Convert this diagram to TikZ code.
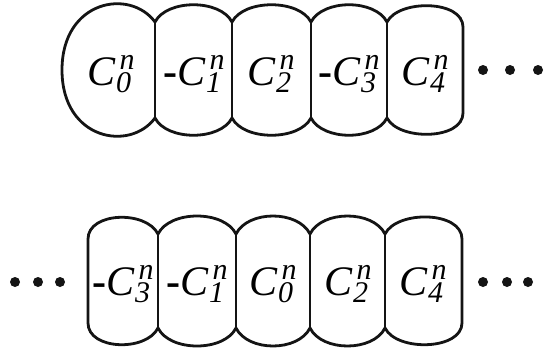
\documentclass[tikz,border=0pt]{standalone}
\usepackage{fontspec}
\setmainfont{Liberation Serif}
\usepackage{tikz}
\definecolor{cellLine}{RGB}{20,20,20}
\newcommand{\subFont}{\fontsize{30}{21}\selectfont}
% coefficient C_k^n with optional sign in front
\newcommand{\coefC}[2]{#1\textit{C}\kern0.5pt\raisebox{-7.5pt}{\subFont\shortstack[l]{\kern3.5pt\textit{n}\\\textit{#2}}}}
\newcommand{\negSign}{{\bfseries -}}

\begin{document}
\begin{tikzpicture}[x=1pt,y=-1pt,
    cell/.style={cellLine, line width=2.8pt, line join=round},
    lbl/.style={anchor=base, inner sep=0pt, font=\fontsize{42}{42}\selectfont},
    dot/.style={circle, fill=cellLine, inner sep=0pt, minimum size=10pt}]
    \useasboundingbox (0,0) rectangle (548,356);

    % top row: outline
    \draw[cell] (155,22) .. controls (130,-12) and (62,0) .. (62,70)
        .. controls (62,140) and (130,152) .. (155,118);
    \draw[cell] (155,22) .. controls (167,-1) and (220,-1) .. (232,22)
        .. controls (244,-1) and (299,-1) .. (311,22)
        .. controls (323,-1) and (375,-1) .. (387,22)
        .. controls (399,-1) and (463,0) .. (463,27) -- (463,113)
        .. controls (463,140) and (399,141) .. (387,118)
        .. controls (375,141) and (323,141) .. (311,118)
        .. controls (299,141) and (244,141) .. (232,118)
        .. controls (220,141) and (167,141) .. (155,118);
    % top row: walls
    \draw[cell] (155,22) -- (155,118);
    \draw[cell] (232,22) -- (232,118);
    \draw[cell] (311,22) -- (311,118);
    \draw[cell] (387,22) -- (387,118);

    % bottom row: outline
    \draw[cell] (88,239) -- (88,323)
        .. controls (88,350) and (146,352) .. (158,328)
        .. controls (170,352) and (224,352) .. (236,328)
        .. controls (248,352) and (298,352) .. (310,328)
        .. controls (322,352) and (373,352) .. (385,328)
        .. controls (397,352) and (462,350) .. (462,323) -- (462,239)
        .. controls (462,211) and (397,210) .. (385,234)
        .. controls (373,210) and (322,210) .. (310,234)
        .. controls (298,210) and (248,210) .. (236,234)
        .. controls (224,210) and (170,210) .. (158,234)
        .. controls (146,210) and (88,212) .. (88,239);
    % bottom row: walls
    \draw[cell] (158,234) -- (158,328);
    \draw[cell] (236,234) -- (236,328);
    \draw[cell] (310,234) -- (310,328);
    \draw[cell] (385,234) -- (385,328);

    % labels, top row
    \node[lbl] (t0) at (111,85) {\coefC{}{0}};
    \node[lbl] (t1) at (194,85) {\coefC{\negSign}{1}};
    \node[lbl] (t2) at (271,85) {\coefC{}{2}};
    \node[lbl] (t3) at (349,85) {\coefC{\negSign}{3}};
    \node[lbl] (t4) at (425,85) {\coefC{}{4}};

    % labels, bottom row
    \node[lbl] (b3) at (123,295) {\coefC{\negSign}{3}};
    \node[lbl] (b1) at (197,295) {\coefC{\negSign}{1}};
    \node[lbl] (b0) at (273,295) {\coefC{}{0}};
    \node[lbl] (b2) at (348,295) {\coefC{}{2}};
    \node[lbl] (b4) at (423,295) {\coefC{}{4}};

    % dots
    \node[dot] (tr1) at (483,70) {};
    \node[dot] (tr2) at (510,70) {};
    \node[dot] (tr3) at (538,70) {};
    \node[dot] (bl1) at (15,282) {};
    \node[dot] (bl2) at (38,282) {};
    \node[dot] (bl3) at (60,282) {};
    \node[dot] (br1) at (483,282) {};
    \node[dot] (br2) at (507,282) {};
    \node[dot] (br3) at (528,282) {};
\end{tikzpicture}
\end{document}
